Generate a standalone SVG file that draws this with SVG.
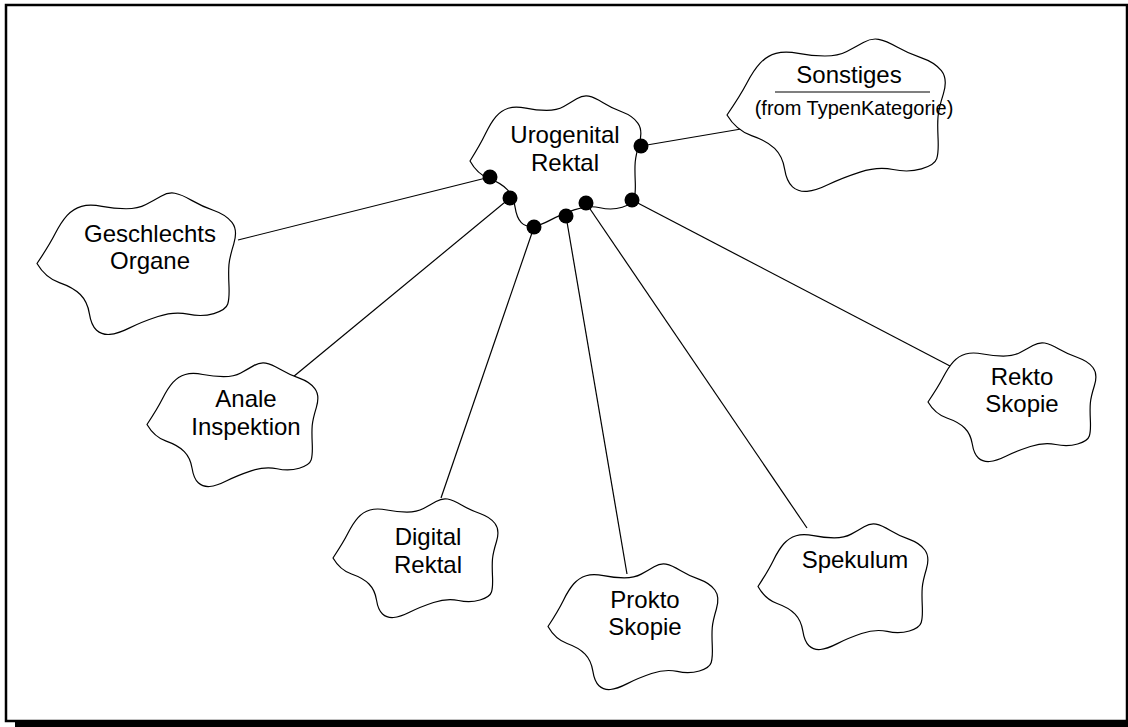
<svg xmlns="http://www.w3.org/2000/svg" xmlns:xlink="http://www.w3.org/1999/xlink" width="1128" height="727" viewBox="0 0 1128 727">
<style>
.cloud{fill:#fff;stroke:#000;stroke-width:1.2;vector-effect:non-scaling-stroke;stroke-linejoin:round}
.lbl{font-family:"Liberation Sans",Arial,sans-serif;font-size:24px;fill:#000;text-anchor:middle}
.small{font-size:20px}
.conn line{stroke:#000;stroke-width:1.2}
.dot{fill:#000}
</style>
<defs>
<path id="cloud" class="cloud" d="M0 50 Q6 37.5 9 29.25 Q12 21 15 16.35 Q18 11.7 22.15 10 Q26.3 8.3 32.3 10 Q38.3 11.7 44.3 11.7 Q50.3 11.7 54.2 8.75 Q58.1 5.8 61.7 2.9 Q65.3 0 68.6 0.85 Q71.9 1.7 76.95 5.85 Q82 10 88 12.9 Q94 15.8 97 21.25 Q100 26.7 97.9 36.25 Q95.8 45.8 95.5 50.8 Q95.2 55.8 95.5 65 Q95.8 74.2 94.9 78.35 Q94 82.5 88 85 Q82 87.5 75.15 85.4 Q68.3 83.3 60.2 87.05 Q52.1 90.8 46.1 95 Q40.1 99.2 36.2 99.6 Q32.3 100 29.65 96.65 Q27 93.3 26.05 85 Q25.1 76.7 21.55 71.7 Q18 66.7 11.1 63.35 Q4.2 60 0 50 Z"/>
</defs>
<rect x="6" y="5" width="1121" height="716" fill="#fff" stroke="#000" stroke-width="2.5"/>
<rect x="15" y="721" width="1113" height="6" fill="#000"/>
<g id="connectors" class="conn">
<line x1="490" y1="177" x2="238" y2="240"/>
<line x1="510" y1="198" x2="293" y2="377"/>
<line x1="534" y1="227" x2="441" y2="498"/>
<line x1="566" y1="216" x2="627" y2="574"/>
<line x1="586" y1="203" x2="807" y2="528"/>
<line x1="632" y1="200" x2="950" y2="366"/>
<line x1="641" y1="146" x2="747" y2="128"/>
</g>
<g id="node-sonstiges">
<use xlink:href="#cloud" transform="translate(727 38) scale(2.21 1.54)"/>
<text class="lbl" x="849" y="83">Sonstiges</text>
<line x1="775" y1="92" x2="930" y2="92" stroke="#000" stroke-width="1.2"/>
<text class="lbl small" x="854" y="115">(from TypenKategorie)</text>
</g>
<g id="node-geschlechts">
<use xlink:href="#cloud" transform="translate(37 192) scale(2.01 1.43)"/>
<text class="lbl" x="150" y="242">Geschlechts</text>
<text class="lbl" x="150" y="269">Organe</text>
</g>
<g id="node-anale">
<use xlink:href="#cloud" transform="translate(147 362) scale(1.73 1.25)"/>
<text class="lbl" x="246" y="407">Anale</text>
<text class="lbl" x="246" y="435">Inspektion</text>
</g>
<g id="node-digital">
<use xlink:href="#cloud" transform="translate(333 498) scale(1.67 1.2)"/>
<text class="lbl" x="428" y="545">Digital</text>
<text class="lbl" x="428" y="573">Rektal</text>
</g>
<g id="node-prokto">
<use xlink:href="#cloud" transform="translate(548 563) scale(1.72 1.27)"/>
<text class="lbl" x="645" y="608">Prokto</text>
<text class="lbl" x="645" y="635">Skopie</text>
</g>
<g id="node-spekulum">
<use xlink:href="#cloud" transform="translate(758 523) scale(1.72 1.27)"/>
<text class="lbl" x="855" y="568">Spekulum</text>
</g>
<g id="node-rekto">
<use xlink:href="#cloud" transform="translate(928 342) scale(1.7 1.2)"/>
<text class="lbl" x="1022" y="385">Rekto</text>
<text class="lbl" x="1022" y="412">Skopie</text>
</g>
<g id="node-urogenital">
<use xlink:href="#cloud" transform="translate(470 95) scale(1.73 1.32)"/>
<text class="lbl" x="565" y="143">Urogenital</text>
<text class="lbl" x="565" y="171">Rektal</text>
<circle class="dot" cx="490" cy="177" r="7.5"/>
<circle class="dot" cx="510" cy="198" r="7.5"/>
<circle class="dot" cx="534" cy="227" r="7.5"/>
<circle class="dot" cx="566" cy="216" r="7.5"/>
<circle class="dot" cx="586" cy="203" r="7.5"/>
<circle class="dot" cx="632" cy="200" r="7.5"/>
<circle class="dot" cx="641" cy="146" r="7.5"/>
</g>
</svg>
